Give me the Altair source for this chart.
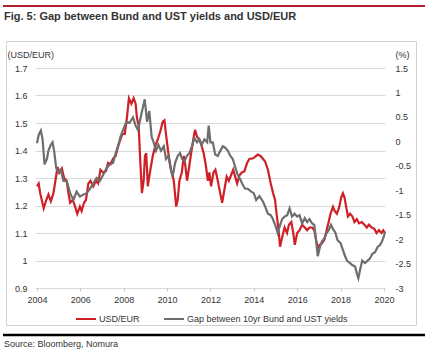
import altair as alt
import pandas as pd

# USD/EUR (left axis), (fractional year, value)
usd = [
    (2004.00, 1.27), (2004.08, 1.28), (2004.15, 1.245), (2004.31, 1.19), (2004.43, 1.22),
    (2004.53, 1.24), (2004.64, 1.215), (2004.76, 1.245), (2004.85, 1.29), (2004.95, 1.34),
    (2005.04, 1.32), (2005.15, 1.335), (2005.25, 1.30), (2005.37, 1.29), (2005.45, 1.245),
    (2005.53, 1.21), (2005.65, 1.22), (2005.76, 1.196), (2005.86, 1.17), (2005.98, 1.196),
    (2006.06, 1.18), (2006.17, 1.21), (2006.26, 1.22), (2006.37, 1.28), (2006.47, 1.29),
    (2006.60, 1.27), (2006.72, 1.29), (2006.82, 1.28), (2006.93, 1.33), (2007.05, 1.32),
    (2007.18, 1.325), (2007.28, 1.355), (2007.39, 1.35), (2007.51, 1.37), (2007.63, 1.38),
    (2007.74, 1.415), (2007.85, 1.44), (2007.94, 1.46), (2008.05, 1.46), (2008.15, 1.52),
    (2008.24, 1.59), (2008.35, 1.57), (2008.46, 1.59), (2008.55, 1.57), (2008.61, 1.52),
    (2008.69, 1.49), (2008.76, 1.37), (2008.84, 1.245), (2008.92, 1.29), (2008.98, 1.38),
    (2009.04, 1.39), (2009.11, 1.27), (2009.23, 1.33), (2009.34, 1.38), (2009.45, 1.415),
    (2009.57, 1.44), (2009.69, 1.47), (2009.80, 1.505), (2009.88, 1.51), (2009.95, 1.46),
    (2010.06, 1.39), (2010.18, 1.33), (2010.31, 1.29), (2010.42, 1.196), (2010.49, 1.22),
    (2010.57, 1.29), (2010.68, 1.32), (2010.77, 1.38), (2010.85, 1.34), (2010.92, 1.29),
    (2011.00, 1.33), (2011.11, 1.39), (2011.23, 1.45), (2011.29, 1.475), (2011.38, 1.45),
    (2011.49, 1.44), (2011.60, 1.415), (2011.69, 1.39), (2011.80, 1.34), (2011.88, 1.29),
    (2011.95, 1.32), (2012.03, 1.27), (2012.14, 1.32), (2012.23, 1.33), (2012.34, 1.29),
    (2012.45, 1.245), (2012.54, 1.21), (2012.65, 1.26), (2012.75, 1.305), (2012.85, 1.29),
    (2012.95, 1.31), (2013.05, 1.33), (2013.14, 1.305), (2013.23, 1.28), (2013.34, 1.31),
    (2013.45, 1.32), (2013.57, 1.325), (2013.69, 1.355), (2013.80, 1.37), (2013.91, 1.37),
    (2014.03, 1.375), (2014.18, 1.385), (2014.31, 1.38), (2014.42, 1.37), (2014.52, 1.36),
    (2014.65, 1.33), (2014.78, 1.28), (2014.89, 1.245), (2014.98, 1.22), (2015.05, 1.17),
    (2015.13, 1.12), (2015.21, 1.05), (2015.31, 1.085), (2015.42, 1.12), (2015.53, 1.10),
    (2015.62, 1.13), (2015.73, 1.14), (2015.82, 1.10), (2015.89, 1.057), (2016.00, 1.10),
    (2016.11, 1.11), (2016.23, 1.13), (2016.35, 1.12), (2016.46, 1.11), (2016.56, 1.12),
    (2016.69, 1.12), (2016.79, 1.11), (2016.87, 1.075), (2016.95, 1.045), (2017.04, 1.057),
    (2017.15, 1.063), (2017.25, 1.075), (2017.36, 1.11), (2017.45, 1.14), (2017.54, 1.17),
    (2017.65, 1.195), (2017.73, 1.18), (2017.83, 1.17), (2017.94, 1.195), (2018.03, 1.23),
    (2018.11, 1.245), (2018.18, 1.23), (2018.26, 1.195), (2018.34, 1.16), (2018.44, 1.17),
    (2018.55, 1.16), (2018.64, 1.14), (2018.75, 1.15), (2018.85, 1.135), (2018.98, 1.14),
    (2019.10, 1.13), (2019.21, 1.12), (2019.31, 1.13), (2019.44, 1.12), (2019.56, 1.115),
    (2019.66, 1.10), (2019.77, 1.11), (2019.89, 1.10), (2019.97, 1.11), (2020.05, 1.10),
]

# Gap between 10yr Bund and UST yields, % (right axis)
gap = [
    (2004.00, -0.04), (2004.08, 0.13), (2004.18, 0.22), (2004.26, 0.04), (2004.35, -0.47),
    (2004.46, -0.36), (2004.53, -0.19), (2004.64, -0.07), (2004.72, -0.02), (2004.79, -0.19),
    (2004.89, -0.55), (2004.99, -0.64), (2005.10, -0.58), (2005.22, -0.81), (2005.37, -0.81),
    (2005.53, -1.06), (2005.68, -1.20), (2005.83, -1.03), (2005.98, -1.13), (2006.14, -1.09),
    (2006.29, -1.06), (2006.44, -0.97), (2006.60, -0.86), (2006.75, -0.75), (2006.90, -0.81),
    (2007.05, -0.69), (2007.21, -0.55), (2007.36, -0.47), (2007.51, -0.44), (2007.63, -0.24),
    (2007.74, -0.10), (2007.85, 0.09), (2007.97, 0.23), (2008.12, 0.40), (2008.27, 0.38),
    (2008.43, 0.49), (2008.55, 0.32), (2008.66, 0.23), (2008.81, 0.55), (2008.97, 0.86),
    (2009.08, 0.40), (2009.18, 0.62), (2009.29, 0.09), (2009.38, -0.02), (2009.49, -0.19),
    (2009.60, -0.07), (2009.72, -0.19), (2009.85, -0.10), (2009.95, -0.36), (2010.06, -0.30),
    (2010.18, -0.58), (2010.26, -0.72), (2010.37, -0.44), (2010.49, -0.30), (2010.60, -0.24),
    (2010.69, -0.36), (2010.80, -0.41), (2010.91, -0.30), (2011.03, -0.24), (2011.15, -0.10),
    (2011.26, 0.07), (2011.38, -0.02), (2011.49, 0.04), (2011.60, -0.07), (2011.72, 0.04),
    (2011.85, -0.02), (2011.92, 0.32), (2012.00, -0.02), (2012.11, -0.02), (2012.22, -0.27),
    (2012.34, -0.30), (2012.46, -0.19), (2012.57, -0.10), (2012.68, -0.13), (2012.80, -0.19),
    (2012.92, -0.30), (2013.03, -0.36), (2013.14, -0.52), (2013.26, -0.69), (2013.38, -0.78),
    (2013.49, -0.89), (2013.60, -0.97), (2013.72, -0.97), (2013.88, -1.03), (2014.00, -1.06),
    (2014.11, -1.20), (2014.26, -1.12), (2014.42, -1.23), (2014.52, -1.33), (2014.65, -1.48),
    (2014.78, -1.51), (2014.88, -1.59), (2015.00, -1.73), (2015.10, -1.87), (2015.20, -1.73),
    (2015.31, -1.59), (2015.42, -1.54), (2015.54, -1.51), (2015.65, -1.37), (2015.76, -1.54),
    (2015.88, -1.48), (2016.00, -1.54), (2016.11, -1.51), (2016.23, -1.68), (2016.35, -1.57),
    (2016.46, -1.65), (2016.57, -1.59), (2016.69, -1.68), (2016.79, -1.71), (2016.87, -2.02),
    (2016.95, -2.35), (2017.05, -2.16), (2017.15, -2.04), (2017.25, -1.99), (2017.36, -1.87),
    (2017.45, -1.82), (2017.56, -1.71), (2017.65, -1.79), (2017.76, -1.87), (2017.86, -2.02),
    (2018.00, -2.08), (2018.10, -2.21), (2018.21, -2.35), (2018.31, -2.45), (2018.44, -2.49),
    (2018.54, -2.53), (2018.67, -2.56), (2018.75, -2.70), (2018.82, -2.80), (2018.90, -2.63),
    (2019.00, -2.44), (2019.13, -2.49), (2019.25, -2.44), (2019.35, -2.40), (2019.47, -2.30),
    (2019.59, -2.27), (2019.71, -2.16), (2019.82, -2.12), (2019.92, -2.04), (2020.00, -1.94),
    (2020.05, -1.85),
]

series_names = ["USD/EUR", "Gap between 10yr Bund and UST yields"]
series_colors = ["#cf2027", "#6e6e6e"]
left_ticks = [0.9, 1.0, 1.1, 1.2, 1.3, 1.4, 1.5, 1.6, 1.7]
right_ticks = [-3, -2.5, -2, -1.5, -1, -0.5, 0, 0.5, 1, 1.5]
year_ticks = [2004, 2006, 2008, 2010, 2012, 2014, 2016, 2018, 2020]

title_text = "Fig. 5: Gap between Bund and UST yields and USD/EUR"
source_text = "Source: Bloomberg, Nomura"

usd_df = pd.DataFrame(usd, columns=["year", "value"])
usd_df["series"] = series_names[0]
gap_df = pd.DataFrame(gap, columns=["year", "value"])
gap_df["series"] = series_names[1]

TXT = "#333333"

x_enc = alt.X(
    "year:Q",
    scale=alt.Scale(domain=[2003.91, 2020.05], nice=False, zero=False),
    axis=alt.Axis(values=year_ticks, format="d", title=None, grid=False, domain=False,
                  ticks=True, tickSize=3, tickColor="#c8c8c8", labelPadding=4,
                  labelFontSize=9, labelColor=TXT),
)

color_enc = alt.Color(
    "series:N",
    scale=alt.Scale(domain=series_names, range=series_colors),
    legend=alt.Legend(title=None, orient="none", legendX=40, legendY=240,
                      direction="horizontal", symbolType="stroke", symbolSize=400,
                      symbolStrokeWidth=2, labelFontSize=9, labelColor=TXT,
                      labelLimit=0, columnPadding=20, labelOffset=2, padding=0),
)

red = alt.Chart(usd_df).mark_line(strokeWidth=2.2, strokeJoin="miter").encode(
    x=x_enc,
    y=alt.Y("value:Q",
            scale=alt.Scale(domain=[0.9, 1.7], nice=False, zero=False),
            axis=alt.Axis(orient="left", values=left_ticks, labelExpr="'' + datum.value",
                          title="(USD/EUR)", titleAngle=0, titleAlign="left",
                          titleBaseline="middle", titleX=-28, titleY=-14,
                          titleFontSize=9, titleFontWeight="normal", titleColor=TXT,
                          grid=True, gridColor="#d9d9d9", domain=False, ticks=False,
                          labelPadding=8, labelFontSize=9, labelColor=TXT)),
    color=color_enc,
)

gray = alt.Chart(gap_df).mark_line(strokeWidth=2.2, strokeJoin="miter").encode(
    x=x_enc,
    y=alt.Y("value:Q",
            scale=alt.Scale(domain=[-3, 1.5], nice=False, zero=False),
            axis=alt.Axis(orient="right", values=right_ticks, labelExpr="'' + datum.value",
                          title="(%)", titleAngle=0, titleAlign="right",
                          titleBaseline="middle", titleX=24, titleY=-14,
                          titleFontSize=9, titleFontWeight="normal", titleColor=TXT,
                          grid=False, domain=False, ticks=False, labelAlign="left",
                          labelPadding=10, labelFontSize=9, labelColor=TXT)),
    color=color_enc,
)

one = pd.DataFrame({"k": [0]})

frame = alt.Chart(one).mark_rect(fillOpacity=0, stroke="#d2d2d2", strokeWidth=1).encode(
    x=alt.value(-28.5), x2=alt.value(381.5), y=alt.value(-26.5), y2=alt.value(257.5))

top_rule = alt.Chart(one).mark_rule(color="#b3202b", strokeWidth=2).encode(
    x=alt.value(-32), x2=alt.value(390), y=alt.value(-62))

bottom_rule = alt.Chart(one).mark_rule(color="#000000", strokeWidth=2.5).encode(
    x=alt.value(-32), x2=alt.value(390), y=alt.value(267))

title = alt.Chart(one).mark_text(align="left", baseline="middle", fontSize=11,
                                 fontWeight="bold", color=TXT).encode(
    x=alt.value(-31), y=alt.value(-51), text=alt.value(title_text))

source = alt.Chart(one).mark_text(align="left", baseline="middle", fontSize=9,
                                  color=TXT).encode(
    x=alt.value(-31), y=alt.value(276), text=alt.value(source_text))

chart = alt.layer(frame, top_rule, bottom_rule, title, source, red, gray).resolve_scale(
    y="independent"
).properties(
    width=350, height=220,
    autosize=alt.AutoSizeParams(type="none"),
    padding={"left": 35, "top": 68, "right": 51, "bottom": 64},
).configure(font="Liberation Sans").configure_view(stroke=None)

chart.save("out.html", embed_options={"renderer": "svg", "actions": False})
